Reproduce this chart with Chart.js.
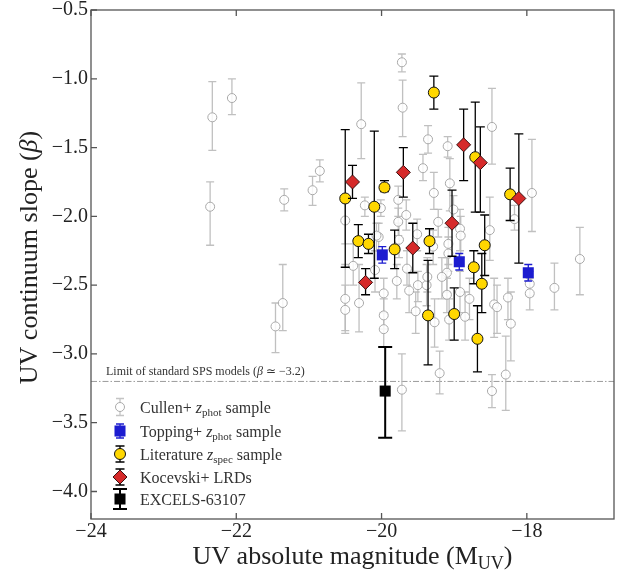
<!DOCTYPE html>
<html>
<head>
<meta charset="utf-8">
<script src="https://cdn.jsdelivr.net/npm/chart.js@4.4.1/dist/chart.umd.min.js"></script>
<style>
  body { margin: 0; background: #fff; }
  canvas { display: block; }
</style>
</head>
<body>
<canvas id="chart" width="628" height="576"></canvas>
<script>
// tick labels
var xTicks = [-24, -22, -20, -18];
var yTicks = [-4.0, -3.5, -3.0, -2.5, -2.0, -1.5, -1.0, -0.5];
var spsLimit = -3.2;

// Cullen+ z_phot sample (open grey circles)
var cullenMuv = [-22.33, -22.06, -22.36, -21.34, -20.95, -20.85, -21.36, -21.46, -19.72, -19.71,
  -20.28, -19.36, -19.09, -18.48, -19.43, -17.93, -19.06, -19.28, -19.77, -19.01,
  -19.66, -19.77, -19.22, -20.50, -18.17, -18.51, -18.92, -18.91, -20.04, -20.23,
  -20.01, -19.76, -19.08, -19.08, -19.29, -20.39, -19.65, -20.09, -19.10, -17.96,
  -17.62, -17.27, -19.79, -19.50, -19.38, -20.50, -20.50, -20.31, -19.97, -19.97,
  -19.97, -19.62, -19.53, -19.27, -19.10, -19.07, -18.92, -18.85, -18.79, -18.45,
  -18.41, -18.26, -18.22, -17.96, -19.20, -19.72, -18.48, -18.29, -19.51, -20.07,
  -19.37, -19.17];
var cullenBeta = [-1.28, -1.14, -1.93, -1.88, -1.81, -1.67, -2.63, -2.80, -0.88, -1.21,
  -1.33, -1.44, -1.49, -1.35, -1.65, -1.83, -1.76, -1.83, -1.88, -1.95,
  -1.99, -2.04, -2.04, -2.03, -2.02, -2.10, -2.09, -2.14, -2.15, -1.92,
  -1.94, -2.17, -2.20, -2.27, -2.22, -2.36, -2.38, -2.39, -2.41, -2.49,
  -2.52, -2.31, -2.47, -2.50, -2.50, -2.60, -2.68, -2.63, -2.56, -2.72,
  -2.82, -2.54, -2.69, -2.77, -2.57, -2.75, -2.55, -2.73, -2.60, -2.64,
  -2.66, -2.59, -2.78, -2.56, -3.14, -3.26, -3.27, -3.15, -2.13, -2.14,
  -2.44, -2.44];
var cullenErrUp = [0.26, 0.14, 0.18, 0.08, 0.10, 0.08, 0.28, 0.17, 0.06, 0.20,
  0.30, 0.10, 0.07, 0.28, 0.10, 0.39, 0.18, 0.15, 0.10, 0.10,
  0.11, 0.10, 0.09, 0.13, 0.10, 0.24, 0.14, 0.14, 0.10, 0.06,
  0.06, 0.12, 0.12, 0.12, 0.12, 0.16, 0.13, 0.14, 0.11, 0.09,
  0.18, 0.23, 0.12, 0.10, 0.15, 0.25, 0.18, 0.28, 0.11, 0.12,
  0.12, 0.14, 0.14, 0.17, 0.12, 0.15, 0.15, 0.18, 0.15, 0.19,
  0.16, 0.14, 0.23, 0.11, 0.16, 0.26, 0.12, 0.28, 0.11, 0.09,
  0.14, 0.14];
var cullenErrDown = [0.24, 0.12, 0.28, 0.08, 0.11, 0.08, 0.20, 0.19, 0.07, 0.21,
  0.25, 0.10, 0.08, 0.27, 0.09, 0.28, 0.20, 0.12, 0.12, 0.13,
  0.11, 0.10, 0.11, 0.17, 0.08, 0.22, 0.16, 0.16, 0.10, 0.08,
  0.06, 0.13, 0.15, 0.13, 0.13, 0.14, 0.12, 0.16, 0.14, 0.09,
  0.16, 0.26, 0.13, 0.12, 0.15, 0.23, 0.17, 0.21, 0.14, 0.10,
  0.13, 0.16, 0.16, 0.18, 0.13, 0.15, 0.15, 0.17, 0.15, 0.24,
  0.19, 0.16, 0.27, 0.12, 0.15, 0.30, 0.12, 0.26, 0.12, 0.11,
  0.11, 0.16];

// Topping+ z_phot sample (blue squares)
var toppingMuv = [-19.99, -18.93, -17.98];
var toppingBeta = [-2.28, -2.33, -2.41];
var toppingErrUp = [0.06, 0.06, 0.06];
var toppingErrDown = [0.06, 0.06, 0.06];

// Literature z_spec sample (yellow circles)
var litMuv = [-19.28, -20.50, -19.96, -20.10, -20.32, -20.18, -19.82, -19.34,
  -18.71, -18.23, -18.58, -18.73, -18.62, -19.36, -19.00, -18.68];
var litBeta = [-1.10, -1.87, -1.79, -1.93, -2.18, -2.20, -2.24, -2.18,
  -1.57, -1.84, -2.21, -2.37, -2.49, -2.72, -2.71, -2.89];
var litErrUp = [0.12, 0.50, 0.05, 0.55, 0.12, 0.07, 0.14, 0.09,
  0.40, 0.19, 0.22, 0.12, 0.22, 0.40, 0.19, 0.24];
var litErrDown = [0.12, 0.50, 0.03, 0.52, 0.12, 0.07, 0.14, 0.09,
  0.40, 0.19, 0.22, 0.12, 0.21, 0.36, 0.19, 0.24];

// Kocevski+ LRDs (red diamonds)
var lrdMuv = [-20.40, -19.70, -18.87, -18.64, -18.11, -19.03, -19.57, -20.22];
var lrdBeta = [-1.75, -1.68, -1.48, -1.61, -1.87, -2.05, -2.23, -2.48];
var lrdErrUp = [0.12, 0.18, 0.26, 0.26, 0.47, 0.24, 0.18, 0.10];
var lrdErrDown = [0.12, 0.18, 0.26, 0.36, 0.47, 0.24, 0.18, 0.09];

// EXCELS-63107 (black square)
var excelsMuv = [-19.95];
var excelsBeta = [-3.27];
var excelsErrUp = [0.32];
var excelsErrDown = [0.34];

var SERIF = '"Liberation Serif", "Times New Roman", serif';

function pts(xs, ys) {
  return xs.map(function (m, i) { return { x: m, y: ys[i] }; });
}

function minusFmt(v, digits) {
  var s = Math.abs(v).toFixed(digits);
  return (v < 0 ? '\u2212' : '') + s;
}

function richText(ctx, x, y, parts) {
  var cx = x;
  parts.forEach(function (p) {
    ctx.font = p.f;
    ctx.fillText(p.t, cx, y + (p.dy || 0));
    cx += ctx.measureText(p.t).width;
  });
  return cx - x;
}

function richWidth(ctx, parts) {
  var w = 0;
  parts.forEach(function (p) { ctx.font = p.f; w += ctx.measureText(p.t).width; });
  return w;
}

function drawMarker(ctx, style, x, y, r, fill, stroke, lw) {
  ctx.beginPath();
  if (style === 'circle') {
    ctx.arc(x, y, r, 0, Math.PI * 2);
  } else if (style === 'rect') {
    var h = r * Math.SQRT1_2;
    ctx.rect(x - h, y - h, 2 * h, 2 * h);
  } else if (style === 'rectRot') {
    ctx.moveTo(x, y - r); ctx.lineTo(x + r, y); ctx.lineTo(x, y + r); ctx.lineTo(x - r, y); ctx.closePath();
  }
  ctx.fillStyle = fill;
  ctx.fill();
  if (lw > 0) { ctx.strokeStyle = stroke; ctx.lineWidth = lw; ctx.stroke(); }
}

var errorBars = {
  id: 'errorBars',
  beforeDatasetDraw: function (chart, args) {
    var ds = chart.data.datasets[args.index];
    if (!ds.errUp) return;
    var ctx = chart.ctx, ys = chart.scales.y, a = chart.chartArea;
    ctx.save();
    ctx.beginPath();
    ctx.rect(a.left, a.top, a.right - a.left, a.bottom - a.top);
    ctx.clip();
    ctx.strokeStyle = ds.barColor;
    ctx.lineWidth = ds.barWidth;
    args.meta.data.forEach(function (pt, i) {
      var v = ds.data[i].y;
      var top = ys.getPixelForValue(v + ds.errUp[i]);
      var bot = ys.getPixelForValue(v - ds.errDown[i]);
      var c = ds.capSize;
      ctx.beginPath();
      ctx.moveTo(pt.x, top); ctx.lineTo(pt.x, bot);
      ctx.moveTo(pt.x - c, top); ctx.lineTo(pt.x + c, top);
      ctx.moveTo(pt.x - c, bot); ctx.lineTo(pt.x + c, bot);
      ctx.stroke();
    });
    ctx.restore();
  }
};

var limitLine = {
  id: 'limitLine',
  beforeDatasetsDraw: function (chart) {
    var ctx = chart.ctx, a = chart.chartArea;
    var y = chart.scales.y.getPixelForValue(spsLimit);
    ctx.save();
    ctx.strokeStyle = '#9a9a9a';
    ctx.lineWidth = 1;
    ctx.setLineDash([6, 2, 1.5, 2]);
    ctx.beginPath();
    ctx.moveTo(a.left, y); ctx.lineTo(a.right, y);
    ctx.stroke();
    ctx.setLineDash([]);
    ctx.fillStyle = '#333';
    ctx.textBaseline = 'alphabetic';
    richText(ctx, a.left + 15, y - 6, [
      { t: 'Limit of standard SPS models (', f: '12px ' + SERIF },
      { t: '\u03b2', f: 'italic 12px ' + SERIF },
      { t: ' \u2243 \u22123.2)', f: '12px ' + SERIF }
    ]);
    ctx.restore();
  }
};

var frameAndText = {
  id: 'frameAndText',
  afterDraw: function (chart) {
    var ctx = chart.ctx, a = chart.chartArea, xs = chart.scales.x, ys = chart.scales.y;
    ctx.save();
    // frame and inward ticks
    ctx.strokeStyle = '#555';
    ctx.lineWidth = 1.3;
    ctx.strokeRect(a.left, a.top, a.right - a.left, a.bottom - a.top);
    ctx.beginPath();
    xTicks.forEach(function (v) {
      var px = xs.getPixelForValue(v);
      ctx.moveTo(px, a.bottom); ctx.lineTo(px, a.bottom - 6);
      ctx.moveTo(px, a.top); ctx.lineTo(px, a.top + 6);
    });
    yTicks.forEach(function (v) {
      var py = ys.getPixelForValue(v);
      ctx.moveTo(a.left, py); ctx.lineTo(a.left + 6, py);
    });
    ctx.stroke();

    // legend
    var lx = a.left + 29, tx = a.left + 49;
    var rows = [
      { y: 407, style: 'circle', r: 4.5, fill: '#fff', stroke: '#aaa', lw: 1, bar: '#c4c4c4', bw: 1.3, h: 8.5, cap: 4,
        parts: [{ t: 'Cullen+ ', f: '16px ' + SERIF }, { t: 'z', f: 'italic 16px ' + SERIF }, { t: 'phot', f: '11px ' + SERIF, dy: 3 }, { t: ' sample', f: '16px ' + SERIF }] },
      { y: 431, style: 'rect', r: 7.8, fill: '#1c1cd0', stroke: '#1c1cd0', lw: 0, bar: '#1c1cd0', bw: 1.3, h: 7, cap: 4,
        parts: [{ t: 'Topping+ ', f: '16px ' + SERIF }, { t: 'z', f: 'italic 16px ' + SERIF }, { t: 'phot', f: '11px ' + SERIF, dy: 3 }, { t: ' sample', f: '16px ' + SERIF }] },
      { y: 454, style: 'circle', r: 5.5, fill: '#ffd700', stroke: '#111', lw: 1, bar: '#000', bw: 1.3, h: 8, cap: 4.5,
        parts: [{ t: 'Literature ', f: '16px ' + SERIF }, { t: 'z', f: 'italic 16px ' + SERIF }, { t: 'spec', f: '11px ' + SERIF, dy: 3 }, { t: ' sample', f: '16px ' + SERIF }] },
      { y: 477, style: 'rectRot', r: 7, fill: '#d62a2a', stroke: '#3a1010', lw: 1, bar: '#000', bw: 1.3, h: 8, cap: 4.5,
        parts: [{ t: 'Kocevski+ LRDs', f: '16px ' + SERIF }] },
      { y: 499, style: 'rect', r: 7.8, fill: '#000', stroke: '#000', lw: 0, bar: '#000', bw: 2, h: 10, cap: 7,
        parts: [{ t: 'EXCELS-63107', f: '16px ' + SERIF }] }
    ];
    rows.forEach(function (r) {
      ctx.strokeStyle = r.bar;
      ctx.lineWidth = r.bw;
      ctx.beginPath();
      ctx.moveTo(lx, r.y - r.h); ctx.lineTo(lx, r.y + r.h);
      ctx.moveTo(lx - r.cap, r.y - r.h); ctx.lineTo(lx + r.cap, r.y - r.h);
      ctx.moveTo(lx - r.cap, r.y + r.h); ctx.lineTo(lx + r.cap, r.y + r.h);
      ctx.stroke();
      drawMarker(ctx, r.style, lx, r.y, r.r, r.fill, r.stroke, r.lw);
      ctx.fillStyle = '#333';
      ctx.textBaseline = 'alphabetic';
      richText(ctx, tx, r.y + 5.5, r.parts);
    });

    // axis titles
    ctx.fillStyle = '#222';
    ctx.textBaseline = 'alphabetic';
    var xParts = [
      { t: 'UV absolute magnitude (M', f: '26px ' + SERIF },
      { t: 'UV', f: '18px ' + SERIF, dy: 5 },
      { t: ')', f: '26px ' + SERIF }
    ];
    var w = richWidth(ctx, xParts);
    richText(ctx, (a.left + a.right) / 2 - w / 2, 564, xParts);

    var yParts = [
      { t: 'UV continuum slope (', f: '26px ' + SERIF },
      { t: '\u03b2', f: 'italic 26px ' + SERIF },
      { t: ')', f: '26px ' + SERIF }
    ];
    var wy = richWidth(ctx, yParts);
    ctx.translate(37, (a.top + a.bottom) / 2 - 7);
    ctx.rotate(-Math.PI / 2);
    richText(ctx, -wy / 2, 0, yParts);
    ctx.restore();
  }
};

var tickFont = { family: SERIF, size: 20, lineHeight: 1 };

new Chart(document.getElementById('chart'), {
  type: 'scatter',
  data: {
    datasets: [
      {
        label: 'Cullen+ z_phot sample', data: pts(cullenMuv, cullenBeta), order: 5,
        errUp: cullenErrUp, errDown: cullenErrDown, barColor: 'rgba(185,185,185,0.9)', barWidth: 1.3, capSize: 4,
        pointStyle: 'circle', pointRadius: 4.5, backgroundColor: 'rgba(255,255,255,0.85)',
        borderColor: '#a9a9a9', borderWidth: 1
      },
      {
        label: 'Topping+ z_phot sample', data: pts(toppingMuv, toppingBeta), order: 4,
        errUp: toppingErrUp, errDown: toppingErrDown, barColor: '#1c1cd0', barWidth: 1.3, capSize: 4,
        pointStyle: 'rect', pointRadius: 7.8, backgroundColor: '#1c1cd0', borderColor: '#1c1cd0', borderWidth: 0
      },
      {
        label: 'Literature z_spec sample', data: pts(litMuv, litBeta), order: 3,
        errUp: litErrUp, errDown: litErrDown, barColor: '#000', barWidth: 1.3, capSize: 4.5,
        pointStyle: 'circle', pointRadius: 5.5, backgroundColor: '#ffd700', borderColor: '#111', borderWidth: 1
      },
      {
        label: 'Kocevski+ LRDs', data: pts(lrdMuv, lrdBeta), order: 2,
        errUp: lrdErrUp, errDown: lrdErrDown, barColor: '#000', barWidth: 1.3, capSize: 4.5,
        pointStyle: 'rectRot', pointRadius: 7, backgroundColor: '#d62a2a', borderColor: '#3a1010', borderWidth: 1
      },
      {
        label: 'EXCELS-63107', data: pts(excelsMuv, excelsBeta), order: 1,
        errUp: excelsErrUp, errDown: excelsErrDown, barColor: '#000', barWidth: 2, capSize: 7,
        pointStyle: 'rect', pointRadius: 7.8, backgroundColor: '#000', borderColor: '#000', borderWidth: 0
      }
    ]
  },
  options: {
    responsive: false,
    animation: false,
    events: [],
    layout: { padding: { top: 10, right: 14, left: 0, bottom: 0 } },
    plugins: {
      legend: { display: false },
      tooltip: { enabled: false }
    },
    scales: {
      x: {
        type: 'linear', min: -24, max: -16.8,
        afterBuildTicks: function (s) { s.ticks = xTicks.map(function (v) { return { value: v }; }); },
        afterFit: function (s) { s.height = 57; },
        grid: { display: false },
        border: { display: false },
        ticks: { font: tickFont, color: '#222', padding: -5, maxRotation: 0, autoSkip: false,
          callback: function (v) { return minusFmt(v, 0); } }
      },
      y: {
        type: 'linear', min: -4.2, max: -0.5,
        afterBuildTicks: function (s) { s.ticks = yTicks.map(function (v) { return { value: v }; }); },
        afterFit: function (s) { s.width = 91; },
        grid: { display: false },
        border: { display: false },
        ticks: { font: tickFont, color: '#222', padding: -5, autoSkip: false,
          callback: function (v) { return minusFmt(v, 1); } }
      }
    }
  },
  plugins: [errorBars, limitLine, frameAndText]
});
</script>
</body>
</html>
